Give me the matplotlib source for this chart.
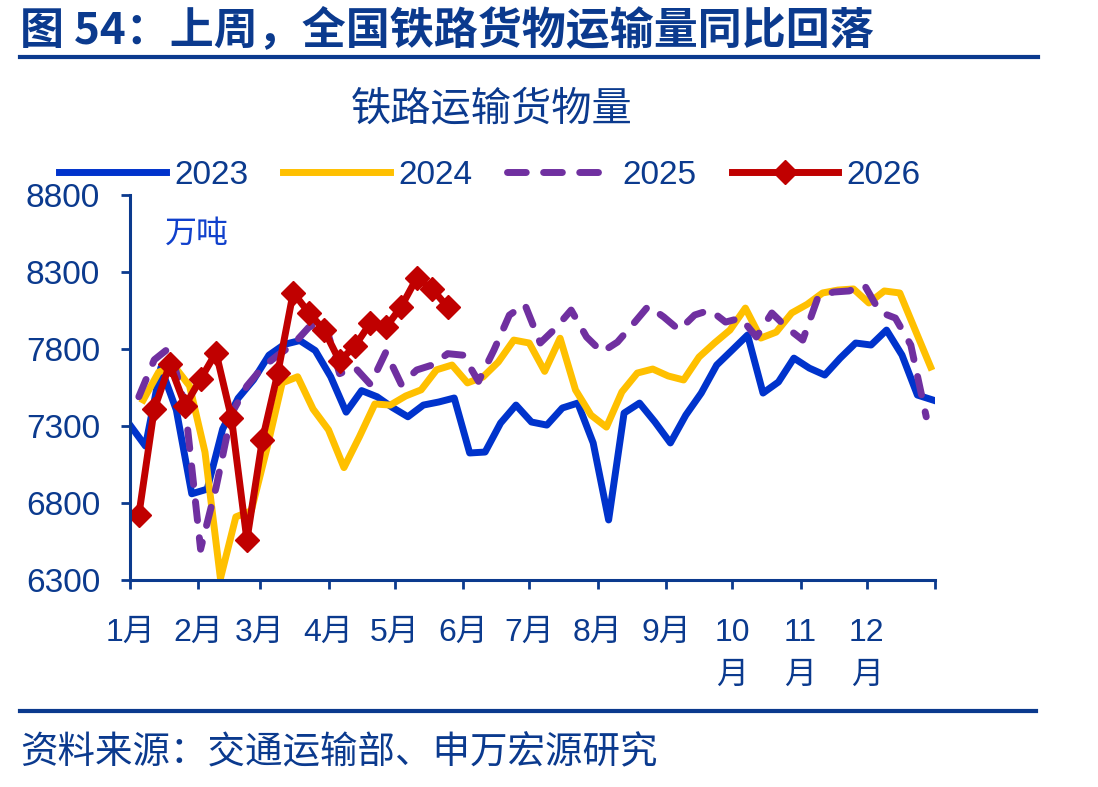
import matplotlib
matplotlib.use('Agg')
import matplotlib.pyplot as plt
from matplotlib.lines import Line2D

plt.rcParams['font.family'] = ['Liberation Sans', 'Noto Sans CJK SC']

NAVY = '#0B3A8E'
CJK = ['Noto Sans CJK SC', 'DejaVu Sans']

# weekly volume, 万吨; x = day of year of each week
values_2023 = [
    7306, 7170, 7680, 7404, 6860, 6890, 7280, 7480, 7600, 7760, 7830, 7855,
    7790, 7620, 7390, 7530, 7490, 7420, 7360, 7436, 7456, 7482, 7125, 7131,
    7319, 7436, 7326, 7306, 7417, 7449, 7190, 6690, 7384, 7449, 7326, 7190,
    7371, 7514, 7696, 7793, 7891, 7514, 7586, 7741, 7676, 7631, 7741, 7839,
    7826, 7923, 7761, 7501, 7469,
]
values_2024 = [
    7469, 7650, 7690, 7560, 7130, 6310, 6710, 6750, 7150, 7580, 7620, 7410,
    7275, 7030, 7230, 7443, 7436, 7495, 7535, 7665, 7696, 7580, 7618, 7716,
    7858, 7839, 7655, 7870, 7534, 7371, 7293, 7521, 7644, 7670, 7625, 7599,
    7748, 7839, 7923, 8066, 7871, 7910, 8034, 8090, 8164, 8183, 8190, 8099,
    8177, 8164, 7923, 7683,
]
values_2025 = [
    7490, 7730, 7810, 7430, 6500, 6900, 7380, 7560, 7680, 7760, 7830, 7940,
    7990, 7640, 7680, 7570, 7780, 7570, 7664, 7696, 7770, 7760, 7590, 7793,
    8020, 8090, 7839, 7936, 8053, 7878, 7780, 7845, 7960, 8079, 8008, 7923,
    8021, 8053, 7975, 8001, 7878, 8034, 7936, 7858, 8140, 8170, 8177, 8215,
    8040, 8001, 7826, 7360,
]
values_2026 = [
    6722, 7410, 7700, 7433, 7605, 7777, 7352, 6560, 7209, 7644, 8167, 8037,
    7923, 7722, 7820, 7969, 7940, 8076, 8261, 8190, 8073,
]
start_day = {'2023': 0, '2024': 6, '2025': 4, '2026': 4}

month_starts = [0, 31, 59, 90, 120, 151, 181, 212, 243, 273, 304, 334, 365]
month_labels = ['1月', '2月', '3月', '4月', '5月', '6月', '7月', '8月', '9月',
                '10\n月', '11\n月', '12\n月', '']
y_ticks = [6300, 6800, 7300, 7800, 8300, 8800]


def days(key, vals):
    return [start_day[key] + 7 * i for i in range(len(vals))]


fig = plt.figure(figsize=(10.98, 7.87), dpi=100)
ax = fig.add_axes([0.1184, 0.263, 0.7332, 0.4892])

ax.plot(days('2023', values_2023), values_2023, color='#0033CC', lw=5,
        solid_joinstyle='round', label='2023')
ax.plot(days('2024', values_2024), values_2024, color='#FFC000', lw=5,
        solid_joinstyle='round', label='2024')
ax.plot(days('2025', values_2025), values_2025, color='#7030A0', lw=5,
        dashes=(2.7, 2.5), dash_capstyle='round', label='2025')
ax.plot(days('2026', values_2026), values_2026, color='#C00000', lw=5,
        marker='D', ms=12, mew=1, solid_joinstyle='round', label='2026')

ax.set_xlim(0, 365)
ax.set_ylim(6300, 8800)
ax.set_xticks(month_starts)
ax.set_xticklabels(month_labels, fontsize=23, color=NAVY, linespacing=1.55)
ax.set_yticks(y_ticks)
ax.set_yticklabels([str(v) for v in y_ticks], fontsize=24, color=NAVY)
ax.tick_params(axis='x', direction='out', length=6.5, width=2, color=NAVY,
               pad=21)
ax.tick_params(axis='y', direction='out', length=6.5, width=2, color=NAVY,
               pad=15)
for side in ['top', 'right']:
    ax.spines[side].set_visible(False)
for side in ['left', 'bottom']:
    ax.spines[side].set_color(NAVY)
    ax.spines[side].set_linewidth(2.2)

ax.text(0.043, 0.9, '万吨', transform=ax.transAxes, fontsize=23,
        color='#1040CC', family=CJK, va='center', ha='left')

fig.legend(loc='center', bbox_to_anchor=(490 / 1098, 1 - 175 / 787), ncol=4,
           frameon=False, fontsize=24, handlelength=3.2, handletextpad=0.25,
           columnspacing=1.05, labelcolor=NAVY)

fig.text(20 / 1098, 1 - 30 / 787, '图 54：上周，全国铁路货物运输量同比回落',
         fontsize=31.7, fontweight='bold', color=NAVY, family=CJK,
         va='center', ha='left')
fig.add_artist(Line2D([20 / 1098, 1038 / 1098], [1 - 57 / 787, 1 - 57 / 787],
                      color=NAVY, lw=3))
fig.text(492 / 1098, 1 - 109 / 787, '铁路运输货物量', fontsize=29, color=NAVY,
         family=CJK, va='center', ha='center')
fig.add_artist(Line2D([20 / 1098, 1036 / 1098], [1 - 711 / 787, 1 - 711 / 787],
                      color=NAVY, lw=3))
fig.text(20 / 1098, 1 - 753 / 787, '资料来源：交通运输部、申万宏源研究',
         fontsize=27, color=NAVY, family=CJK, va='center', ha='left')

fig.savefig('out.png', dpi=100)
